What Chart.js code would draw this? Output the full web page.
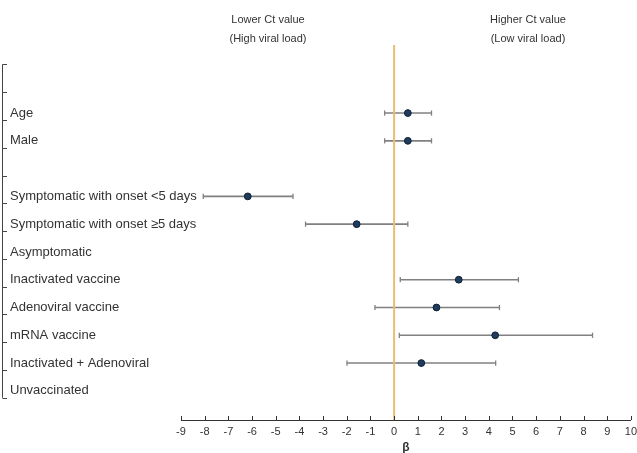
<!DOCTYPE html>
<html><head><meta charset="utf-8">
<script src="https://cdn.jsdelivr.net/npm/chart.js@4"></script>
<style>html,body{margin:0;padding:0;background:#fff}</style>
</head><body>
<canvas id="c" width="637" height="453"></canvas>
<script>
// ---- data ----
const rowLabels = ["", "Age", "Male", "", "Symptomatic with onset <5 days", "Symptomatic with onset ≥5 days",
  "Asymptomatic", "Inactivated vaccine", "Adenoviral vaccine", "mRNA vaccine", "Inactivated + Adenoviral", "Unvaccinated"];
const estRows   = [1, 2, 4, 5, 7, 8, 9, 10];
const estimates = [0.58, 0.58, -6.18, -1.58, 2.73, 1.79, 4.27, 1.15];
const ciLow     = [-0.40, -0.40, -8.06, -3.74, 0.26, -0.81, 0.22, -1.99];
const ciHigh    = [1.58, 1.58, -4.27, 0.58, 5.25, 4.45, 8.38, 4.29];
const xTickValues = [-9, -8, -7, -6, -5, -4, -3, -2, -1, 0, 1, 2, 3, 4, 5, 6, 7, 8, 9, 10];
const headerLeft  = ["Lower Ct value", "(High viral load)"];
const headerRight = ["Higher Ct value", "(Low viral load)"];
const xTitle = "β";

const FONT = "'Liberation Sans', Arial, sans-serif";
const TEXT = "#333333";

const ciDatasets = estRows.map((r, i) => ({
  data: [{x: ciLow[i], y: r}, {x: ciHigh[i], y: r}],
  showLine: true,
  borderColor: "#808080",
  borderWidth: 1.6,
  pointStyle: "line",
  rotation: 90,
  pointRadius: 2.6,
  pointBorderColor: "#808080",
  pointBorderWidth: 1.3,
  pointHoverRadius: 2.6,
  order: 1
}));

const pointDataset = {
  data: estimates.map((v, i) => ({x: v, y: estRows[i]})),
  showLine: false,
  pointRadius: 3.4,
  pointBackgroundColor: "#1f3b5e",
  pointBorderColor: "#0e1f33",
  pointBorderWidth: 1,
  order: 0
};

const decor = {
  id: "decor",
  afterDatasetsDraw(chart) {
    const {ctx, chartArea, scales} = chart;
    const x0 = scales.x.getPixelForValue(0);
    ctx.save();
    ctx.strokeStyle = "#e6bf72";
    ctx.lineWidth = 2;
    ctx.beginPath();
    ctx.moveTo(x0, chartArea.top);
    ctx.lineTo(x0, chartArea.bottom);
    ctx.stroke();
    ctx.restore();
  },
  afterDraw(chart) {
    const {ctx, chartArea, scales} = chart;
    ctx.save();
    // inward x ticks
    ctx.strokeStyle = TEXT;
    ctx.lineWidth = 1;
    ctx.beginPath();
    xTickValues.forEach(v => {
      const px = Math.round(scales.x.getPixelForValue(v)) + 0.5;
      ctx.moveTo(px, chartArea.bottom - 4);
      ctx.lineTo(px, chartArea.bottom);
    });
    ctx.stroke();
    // left row axis
    const y = scales.y;
    const yTop = y.getPixelForValue(-0.75);
    const yBot = y.getPixelForValue(rowLabels.length - 0.75);
    ctx.strokeStyle = "#444";
    ctx.beginPath();
    ctx.moveTo(2.5, yTop);
    ctx.lineTo(2.5, yBot);
    for (let i = 0; i <= rowLabels.length; i++) {
      const py = Math.round(y.getPixelForValue(i - 0.75)) + 0.5;
      ctx.moveTo(2.5, py);
      ctx.lineTo(7, py);
    }
    ctx.stroke();
    // row labels
    ctx.fillStyle = TEXT;
    ctx.font = "13px " + FONT;
    ctx.textAlign = "left";
    ctx.textBaseline = "middle";
    rowLabels.forEach((lab, i) => {
      if (lab) ctx.fillText(lab, 10, y.getPixelForValue(i));
    });
    // header texts
    ctx.font = "11px " + FONT;
    ctx.textAlign = "center";
    ctx.fillText(headerLeft[0], 268, 20);
    ctx.fillText(headerLeft[1], 268, 39);
    ctx.fillText(headerRight[0], 528, 20);
    ctx.fillText(headerRight[1], 528, 39);
    ctx.restore();
  }
};

new Chart(document.getElementById("c"), {
  type: "scatter",
  data: { datasets: [pointDataset, ...ciDatasets] },
  options: {
    responsive: false,
    animation: false,
    layout: { padding: { left: 10, top: 45, right: 0, bottom: 0 } },
    plugins: { legend: { display: false }, tooltip: { enabled: false } },
    scales: {
      x: {
        type: "linear",
        min: -9, max: 10,
        afterBuildTicks: s => { s.ticks = xTickValues.map(v => ({value: v})); },
        afterFit: s => { s.height = 33; },
        ticks: { font: { family: FONT, size: 11 }, color: TEXT, padding: 0, maxRotation: 0, autoSkip: false },
        grid: { display: true, drawOnChartArea: false, drawTicks: true, tickLength: 5, color: "rgba(0,0,0,0)" },
        border: { display: true, color: TEXT, width: 1 },
        title: { display: true, text: xTitle, color: TEXT, font: { family: FONT, size: 12, weight: "bold" }, padding: { top: 0, bottom: -1.5 } }
      },
      y: {
        type: "linear",
        reverse: true,
        min: -1.45, max: 12.05,
        afterBuildTicks: s => { s.ticks = rowLabels.map((_, i) => ({value: i})); },
        afterFit: s => { s.width = 171; },
        ticks: { display: false },
        grid: { display: false },
        border: { display: false }
      }
    }
  },
  plugins: [decor]
});
</script>
</body></html>
